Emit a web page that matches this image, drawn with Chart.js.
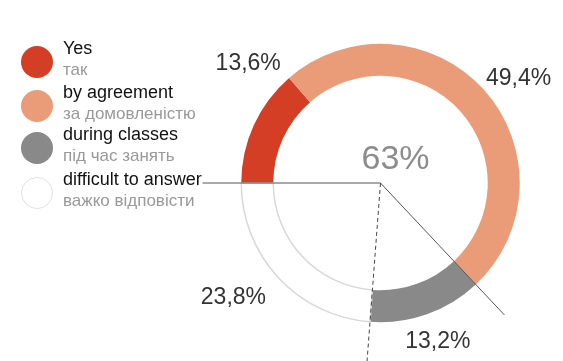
<!DOCTYPE html>
<html>
<head>
<meta charset="utf-8">
<script src="https://cdn.jsdelivr.net/npm/chart.js@4"></script>
<style>
  body { margin: 0; background: #fff; font-family: "Liberation Sans", Arial, sans-serif; }
  #wrap { position: relative; width: 563px; height: 361px; overflow: hidden; }
  #chart { position: absolute; left: 0; top: 0; }
  .item { position: absolute; left: 21px; }
  .dot { position: absolute; left: 0; width: 32px; height: 32px; border-radius: 50%; box-sizing: border-box; }
  .en { position: absolute; left: 42px; font-size: 18px; color: #111; white-space: nowrap; }
  .uk { position: absolute; left: 42px; font-size: 17px; color: #999; white-space: nowrap; }
</style>
</head>
<body>
<div id="wrap">
  <canvas id="chart" width="563" height="361"></canvas>
  <div id="legend"></div>
</div>
<script>
let categories = ['Yes', 'by agreement', 'during classes', 'difficult to answer'];
let categoriesUk = ['так', 'за домовленістю', 'під час занять', 'важко відповісти'];
let shares = [13.6, 49.4, 13.2, 23.8];
let centerText = '63%';

let fills = ['#d43e25', '#ea9c79', '#898989', '#ffffff'];
let borders = ['#d43e25', '#ea9c79', '#898989', '#d8d8d8'];

// label placement around the ring: angle nudge (deg) and distance past the outer edge
let labelShift = [17.6, 5, -0.5, 5];
let labelGap = [39, 34, 29, 47];

// legend
let legendTop = [46, 90, 132, 177];
let legend = document.getElementById('legend');
categories.forEach((name, i) => {
    let item = document.createElement('div');
    item.className = 'item';
    item.style.top = legendTop[i] + 'px';
    let dot = document.createElement('div');
    dot.className = 'dot';
    dot.style.background = fills[i];
    if (i === 3) dot.style.border = '1px solid #e2e2e2';
    let en = document.createElement('div');
    en.className = 'en';
    en.style.top = '-8px';
    en.textContent = name;
    let uk = document.createElement('div');
    uk.className = 'uk';
    uk.style.top = '14px';
    uk.textContent = categoriesUk[i];
    item.appendChild(dot);
    item.appendChild(en);
    item.appendChild(uk);
    legend.appendChild(item);
});

function fmt(v) {
    return v.toFixed(1).replace('.', ',') + '%';
}

let ringExtras = {
    id: 'ringExtras',
    afterDatasetsDraw(chart) {
        let ctx = chart.ctx;
        let arcs = chart.getDatasetMeta(0).data;
        let cx = arcs[0].x, cy = arcs[0].y;
        let outer = arcs[0].outerRadius;

        function ray(angle, len, dash, color) {
            ctx.save();
            ctx.strokeStyle = color;
            ctx.lineWidth = 1;
            ctx.setLineDash(dash);
            ctx.beginPath();
            ctx.moveTo(cx, cy);
            ctx.lineTo(cx + Math.cos(angle) * len, cy + Math.sin(angle) * len);
            ctx.stroke();
            ctx.restore();
        }
        ray(arcs[0].startAngle, 178, [], '#555');
        ray(arcs[2].startAngle, 181, [], '#555');
        ray(arcs[2].endAngle, 200, [4, 3], '#444');

        ctx.save();
        ctx.textAlign = 'center';
        ctx.textBaseline = 'middle';
        ctx.fillStyle = '#333';
        ctx.font = '23px "Liberation Sans", Arial, sans-serif';
        arcs.forEach((arc, i) => {
            let mid = (arc.startAngle + arc.endAngle) / 2 + labelShift[i] * Math.PI / 180;
            let r = outer + labelGap[i];
            ctx.fillText(fmt(shares[i]), cx + Math.cos(mid) * r, cy + Math.sin(mid) * r);
        });
        ctx.fillStyle = '#8c8c8c';
        ctx.font = '34px "Liberation Sans", Arial, sans-serif';
        ctx.fillText(centerText, cx + 15, cy - 23);
        ctx.restore();
    }
};

let ctx_ring = document.getElementById('chart');

let chart_ring = new Chart(ctx_ring, {
    type: 'doughnut',
    data: {
        labels: categories,
        datasets: [{
            data: shares,
            backgroundColor: fills,
            borderColor: borders,
            borderWidth: [0, 0, 0, 1.5],
            hoverOffset: 0
        }]
    },
    options: {
        responsive: false,
        maintainAspectRatio: false,
        animation: false,
        rotation: -90,
        cutout: '77%',
        layout: {
            padding: { left: 240, right: 42, top: 43, bottom: 38 }
        },
        plugins: {
            legend: { display: false },
            tooltip: { enabled: false }
        }
    },
    plugins: [ringExtras]
});
</script>
</body>
</html>
